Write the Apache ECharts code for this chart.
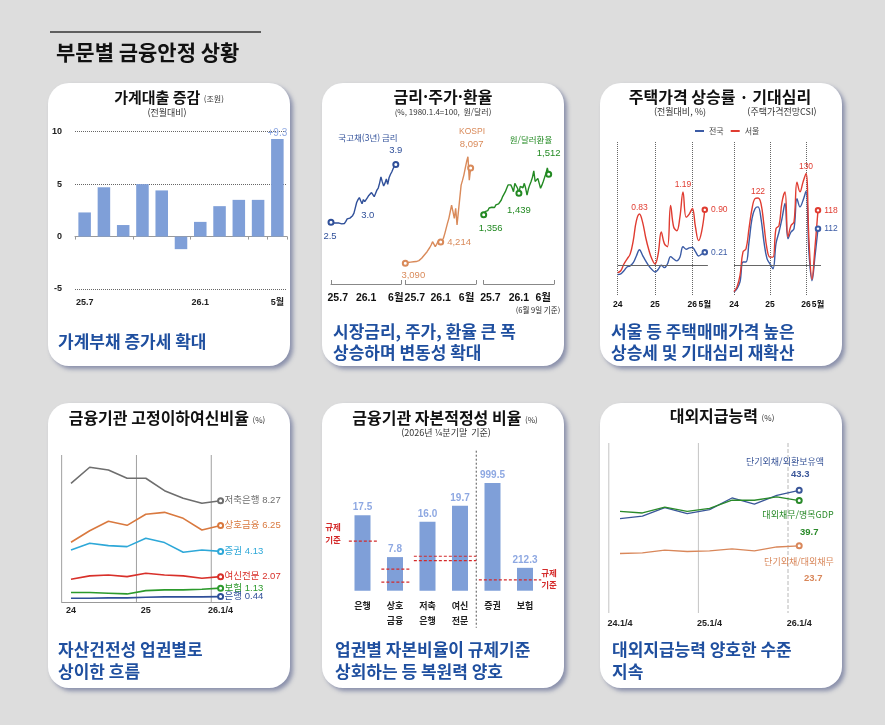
<!DOCTYPE html>
<html lang="ko">
<head>
<meta charset="utf-8">
<title>부문별 금융안정 상황</title>
<script src="https://cdn.jsdelivr.net/npm/echarts@6.0.0/dist/echarts.min.js"></script>
<style>
  html, body { margin: 0; padding: 0; background: #dddddd; }
  #wrap { position: relative; width: 885px; height: 725px; overflow: hidden; }
  .card { position: absolute; background: #fff; border-radius: 21px; box-shadow: 3px 3px 4px rgba(70, 80, 130, 0.55); }
  #main { position: absolute; left: 0; top: 0; width: 885px; height: 725px; }
</style>
</head>
<body>
<div id="wrap">
  <div class="card" style="left:48px;top:83px;width:242px;height:283px"></div>
  <div class="card" style="left:322px;top:83px;width:242px;height:283px"></div>
  <div class="card" style="left:600px;top:83px;width:242px;height:283px"></div>
  <div class="card" style="left:48px;top:403px;width:242px;height:285px"></div>
  <div class="card" style="left:322px;top:403px;width:242px;height:285px"></div>
  <div class="card" style="left:600px;top:403px;width:242px;height:285px"></div>
  <div id="main"></div>
</div>
<script>
// 가계대출 증감 (조원, 전월대비)
var loanMonths = ['25.7', '25.8', '25.9', '25.10', '25.11', '25.12', '26.1', '26.2', '26.3', '26.4', '26.5'];
var loanTicks = ['25.7', '', '', '', '', '', '26.1', '', '', '', '5월'];
var loanChange = [2.3, 4.7, 1.1, 5.0, 4.4, -1.2, 1.4, 2.9, 3.5, 3.5, 9.3];

// 금리·주가·환율 (주간, 25.7 ~ 26.6.9)
var weekCats = [];
for (var w = 0; w < 53; w++) weekCats.push('w' + w);
var rateTickText = ['25.7', '26.1', '6월'];
var bondTickPos = [5, 26, 48];
var kospiTickPos = [7, 26, 45];
var fxTickPos = [5, 26, 44];
var bondYield = [2.50, 2.49, 2.48, 2.47, 2.48, 2.46, 2.48, 2.47, 2.46, 2.47, 2.47, 2.52, 2.58, 2.57, 2.60, 2.62, 2.66,
  2.72, 2.85, 2.98, 3.05, 3.10, 3.02, 2.95, 3.05, 3.00, 2.98, 3.10, 3.15, 3.12, 3.22, 3.25, 3.12, 3.20, 3.28, 3.33,
  3.45, 3.60, 3.48, 3.38, 3.45, 3.55, 3.42, 3.58, 3.66, 3.72, 3.80, 3.86, 3.90];
var kospi = [3090, 3110, 3130, 3120, 3150, 3140, 3170, 3160, 3180, 3178, 3230, 3290, 3353, 3440, 3528, 3600, 3700,
  3790, 3920, 4053, 4228, 4100, 3965, 4088, 4228, 4150, 4214, 4300, 4403, 4650, 4928, 5200, 5453, 5800, 6153, 5803,
  5453, 5978, 5103, 5803, 6503, 7203, 7450, 7728, 8078, 8428, 8690, 7465, 8097];
var usdkrw = [1356, 1368, 1375, 1372, 1382, 1378, 1385, 1388, 1384, 1394, 1390, 1398, 1401, 1413, 1426, 1420, 1445,
  1458, 1471, 1465, 1471, 1460, 1445, 1477, 1471, 1458, 1439, 1465, 1471, 1460, 1477, 1458, 1432, 1455, 1471, 1484,
  1500, 1525, 1484, 1490, 1496, 1477, 1458, 1470, 1484, 1500, 1515, 1536, 1512];

// 주택가격 상승률(전월대비, %) · 주택가격전망CSI
var hpiMonths = ['24.1', '24.2', '24.3', '24.4', '24.5', '24.6', '24.7', '24.8', '24.9', '24.10', '24.11', '24.12',
  '25.1', '25.2', '25.3', '25.4', '25.5', '25.6', '25.7', '25.8', '25.9', '25.10', '25.11', '25.12',
  '26.1', '26.2', '26.3', '26.4', '26.5', '26.6'];
var hpiTickPos = [0, 12, 24, 28];
var hpiTickText = ['24', '25', '26', '5월'];
var hpiNation = [-0.15, -0.14, -0.09, -0.03, -0.01, 0.04, 0.15, 0.25, 0.16, 0.07, -0.01, -0.07, -0.11, -0.07, 0.00,
  -0.04, 0.02, 0.14, 0.10, 0.07, 0.13, 0.30, 0.26, 0.28, 0.29, 0.22, 0.15, 0.18, 0.21];
var hpiSeoul = [-0.12, -0.09, 0.02, 0.10, 0.18, 0.40, 0.72, 0.83, 0.70, 0.45, 0.25, 0.10, 0.02, 0.18, 0.54, 0.35,
  0.30, 0.97, 0.62, 0.56, 0.78, 1.19, 0.78, 0.83, 0.92, 0.62, 0.40, 0.55, 0.90];
var csiNation = [91.3, 92.4, 94.6, 101.1, 101.1, 107.6, 115.3, 118.5, 119.1, 115.3, 107.6, 102.2, 100.5, 98.9, 107.1,
  110.9, 115.3, 120.2, 108.7, 110.9, 112.0, 121.8, 119.1, 121.2, 124.2, 104.0, 95.0, 103.0, 112.0];
var csiSeoul = [91.5, 92.9, 96.7, 104.4, 105.4, 112.0, 118.5, 121.8, 122.0, 120.2, 113.1, 105.4, 102.7, 102.7, 112.0,
  113.0, 120.7, 124.0, 109.3, 113.0, 114.2, 127.2, 124.0, 127.2, 130.0, 108.0, 95.5, 106.0, 118.0];

// 금융기관 고정이하여신비율 (%)
var quarters = ['24.1/4', '24.2/4', '24.3/4', '24.4/4', '25.1/4', '25.2/4', '25.3/4', '25.4/4', '26.1/4'];
var nplTicks = ['24', '', '', '', '25', '', '', '', '26.1/4'];
var yearStarts = [0, 4, 8];
var nplSavings = [9.69, 11.0, 10.77, 10.1, 10.1, 9.09, 8.47, 8.06, 8.27];
var nplMutual = [4.88, 5.82, 6.59, 6.26, 7.16, 7.32, 6.83, 5.88, 6.25];
var nplSecurities = [4.25, 4.80, 4.60, 4.52, 5.20, 4.85, 4.06, 4.25, 4.13];
var nplCard = [1.86, 2.13, 2.21, 2.07, 2.35, 2.21, 2.13, 1.94, 2.07];
var nplInsurance = [0.77, 0.77, 0.72, 0.66, 0.93, 0.99, 0.99, 1.04, 1.13];
var nplBank = [0.31, 0.31, 0.34, 0.34, 0.39, 0.42, 0.42, 0.42, 0.44];

// 금융기관 자본적정성 비율 (%, 2026년 1/4분기말)
var capCats = ['은행', '상호\n금융', '저축\n은행', '여신\n전문', '증권', '보험'];
var capRatioA = [17.5, 7.8, 16.0, 19.7, null, null];
var capRatioB = [null, null, null, null, 999.5, 212.3];
var capSplit = [4];
// [시작 업권, 끝 업권, 규제기준]
var regLinesA = [[0, 0, 11.5], [1, 1, 5], [1, 1, 2], [2, 3, 8], [2, 3, 7]];
var regLinesB = [[4, 5, 100]];

// 대외지급능력 (%)
var extTicks = ['24.1/4', '', '', '', '25.1/4', '', '', '', '26.1/4'];
var stDebtReserves = [33.3, 34.2, 37.2, 35.1, 36.5, 40.6, 38.4, 41.5, 43.3];
var extDebtGdp = [35.9, 35.3, 37.4, 35.9, 36.9, 39.8, 39.8, 41.0, 39.7];
var stDebtShare = [21.0, 21.2, 22.2, 21.7, 21.9, 22.6, 21.9, 23.3, 23.7];

var KR = "'Noto Sans CJK KR', sans-serif";
var NUM = "'Liberation Sans', Arial, 'Noto Sans CJK KR', sans-serif";
var BAR = '#7f9fd8', LBLUE = '#8ea8e2', CAP = '#1f4f9f';
var C_BOND = '#2f4f99', C_KOSPI = '#d98a5a', C_FX = '#238a23';
var C_NAT = '#3b5ba5', C_SEOUL = '#e03c31';

var chart = echarts.init(document.getElementById('main'));

// 특정 시점에만 점/라벨 표시
function marks(values, spec) {
  return values.map(function (v, i) {
    var m = spec[i];
    if (!m) return v;
    var item = { value: v };
    if (m.dot) {
      item.symbol = 'emptyCircle';
    } else {
      item.symbol = 'circle';
      item.symbolSize = 1;
      item.itemStyle = { color: 'rgba(0,0,0,0)', borderWidth: 0 };
    }
    if (m.label) item.label = Object.assign({ show: true }, m.label);
    return item;
  });
}

function txt(x, y, s, size, color, opt) {
  opt = opt || {};
  return {
    type: 'text', x: x, y: y, z: 100, silent: true,
    style: {
      text: s, fontSize: size, fontWeight: opt.w || 'normal', fontFamily: opt.f || KR,
      fill: color, align: opt.a || 'center', verticalAlign: 'middle', rich: opt.rich
    }
  };
}
function title(x, y, t, unit, size) {
  return txt(x, y, '{t|' + t + '}' + (unit ? ' {u|' + unit + '}' : ''), size || 16, '#111', {
    rich: {
      t: { fontSize: size || 16, fontWeight: 'bold', fontFamily: KR, fill: '#111' },
      u: { fontSize: 8, fontFamily: KR, fill: '#333', padding: [4, 0, 0, 0] }
    }
  });
}
function caption(x, y, s) { return txt(x, y, s, 17, CAP, { w: 'bold', a: 'left' }); }

function weekAxis(g, pos) {
  return {
    gridIndex: g, type: 'category', boundaryGap: false, data: weekCats,
    axisLine: { lineStyle: { color: '#888', width: 1 } },
    axisTick: { show: true, inside: true, length: 4, lineStyle: { color: '#888' },
      interval: function (i) { return i === 0 || i === weekCats.length - 1; } },
    axisLabel: { margin: 9, fontSize: 10.5, fontWeight: 'bold', color: '#111', fontFamily: NUM,
      interval: function (i) { return pos.indexOf(i) >= 0; },
      formatter: function (v, i) { return rateTickText[pos.indexOf(i)]; } },
    splitLine: { show: false }
  };
}
function hpiAxis(g) {
  return {
    gridIndex: g, type: 'category', boundaryGap: false, data: hpiMonths,
    axisLine: { show: false }, axisTick: { show: false },
    axisLabel: { margin: 4, fontSize: 8.5, fontWeight: 'bold', color: '#111', fontFamily: NUM,
      interval: function (i) { return hpiTickPos.indexOf(i) >= 0; },
      formatter: function (v, i) { return hpiTickText[hpiTickPos.indexOf(i)]; } },
    splitLine: { show: true, interval: function (i) { return i % 12 === 0; },
      lineStyle: { color: '#666', type: 'dotted', width: 1 } }
  };
}
function quarterAxis(g, ticks, margin, showLine) {
  return {
    gridIndex: g, type: 'category', boundaryGap: true, data: quarters,
    axisLine: { show: showLine, lineStyle: { color: '#999' } }, axisTick: { show: false },
    axisLabel: { interval: 0, margin: margin, fontSize: 9, fontWeight: 'bold', color: '#222', fontFamily: NUM,
      formatter: function (v, i) { return ticks[i]; } },
    splitLine: { show: false }
  };
}
// 구간 경계(카테고리 왼쪽 끝)에 세로선
function boundarySeries(xi, yi, idx, styleFn, extend) {
  return {
    type: 'custom', xAxisIndex: xi, yAxisIndex: yi, silent: true, z: 1,
    data: idx.map(function (i) { return [i, 0]; }), encode: { x: 0, y: 1 },
    renderItem: function (params, api) {
      var cs = params.coordSys;
      var bw = api.size([1, 0])[0];
      var x = api.coord([api.value(0), 0])[0] - bw / 2;
      return { type: 'line', shape: { x1: x, y1: cs.y, x2: x, y2: cs.y + cs.height + (extend || 0) },
        style: styleFn(api.value(0)) };
    }
  };
}
function lineSeries(name, xi, yi, data, color, fmt, extra) {
  return Object.assign({
    type: 'line', name: name, xAxisIndex: xi, yAxisIndex: yi, data: data,
    symbol: 'none', symbolSize: 5, showAllSymbol: true, silent: true, z: 3,
    lineStyle: { color: color, width: 1.4 }, itemStyle: { color: color, borderWidth: 1.2 },
    label: { show: false, color: color, fontSize: 9.5, fontFamily: NUM, formatter: function (p) { return fmt(p.value); } }
  }, extra || {});
}
var f1 = function (v) { return v.toFixed(1); };
var f2 = function (v) { return v.toFixed(2); };
var f0 = function (v) { return String(Math.round(v)); };
var fc = function (v) { return v.toLocaleString('en-US'); };

var last = hpiSeoul.length - 1;
var nplLast = quarters.length - 1;

function nplSeries(name, data, color) {
  var spec = {}; spec[nplLast] = { dot: true };
  return lineSeries(name, 6, 6, marks(data, spec), color, f2, {
    lineStyle: { color: color, width: 1.6 },
    endLabel: { show: true, distance: 4, color: color, fontSize: 9.5, fontFamily: NUM,
      formatter: function (p) { return p.seriesName + ' ' + p.value.toFixed(2); } }
  });
}
function endLabelSpec(pos, distance, offset) {
  var s = {}; s[nplLast] = { dot: true, label: { position: pos, distance: distance, offset: offset } }; return s;
}
function extSeries(name, data, color, spec) {
  return lineSeries(name, 8, 9, marks(data, spec), color, f1, {
    lineStyle: { color: color, width: 1.3 },
    label: { show: false, color: color, fontSize: 9.5, fontWeight: 'bold', fontFamily: NUM,
      formatter: function (p) { return f1(p.value); } }
  });
}

function regRender(params, api) {
  var a = api.coord([api.value(0), api.value(2)]);
  var b = api.coord([api.value(1), api.value(2)]);
  var bw = api.size([1, 0])[0];
  return {
    type: 'line',
    shape: { x1: a[0] - bw * 0.42, y1: a[1], x2: b[0] + bw * 0.5, y2: b[1] },
    style: { stroke: '#d42a2a', lineWidth: 1.2, lineDash: [3, 2] }
  };
}

var option = {
  animation: false,
  textStyle: { fontFamily: NUM },
  legend: {
    data: ['전국', '서울'], left: 695, top: 127, padding: 0, itemWidth: 9, itemHeight: 2, itemGap: 7,
    icon: 'rect', selectedMode: false, textStyle: { fontSize: 8, color: '#444', fontFamily: KR }
  },
  grid: [
    { left: 75, top: 131.7, width: 212, height: 157.3 },
    { left: 331, top: 130, width: 70.2, height: 154 },
    { left: 405.3, top: 130, width: 70.8, height: 154 },
    { left: 483.7, top: 130, width: 70.4, height: 154 },
    { left: 617.7, top: 142, width: 90.2, height: 154 },
    { left: 734, top: 142, width: 87, height: 154 },
    { left: 61.65, top: 455, width: 168.3, height: 147 },
    { left: 346.25, top: 450.7, width: 195, height: 140 },
    { left: 608.8, top: 443, width: 201.6, height: 170 }
  ],
  xAxis: [
    { gridIndex: 0, type: 'category', data: loanMonths,
      axisLine: { onZero: true, lineStyle: { color: '#9a9a9a' } },
      axisTick: { show: true, interval: 2, length: 3, lineStyle: { color: '#9a9a9a' } },
      axisLabel: { interval: 0, margin: 9, fontSize: 9, fontWeight: 'bold', color: '#222', fontFamily: NUM,
        formatter: function (v, i) { return loanTicks[i]; } } },
    weekAxis(1, bondTickPos),
    weekAxis(2, kospiTickPos),
    weekAxis(3, fxTickPos),
    hpiAxis(4),
    hpiAxis(5),
    quarterAxis(6, nplTicks, 4, true),
    { gridIndex: 7, type: 'category', data: capCats,
      axisLine: { show: false }, axisTick: { show: false },
      axisLabel: { interval: 0, margin: 7, fontSize: 9, fontWeight: 'bold', color: '#222', lineHeight: 15, fontFamily: KR },
      splitLine: { show: false } },
    quarterAxis(8, extTicks, 6, false)
  ],
  yAxis: [
    { gridIndex: 0, type: 'value', min: -5, max: 10, interval: 5,
      axisLine: { show: false }, axisTick: { show: false },
      axisLabel: { margin: 13, fontSize: 9, fontWeight: 'bold', color: '#222', fontFamily: NUM },
      splitLine: { lineStyle: { color: '#666', type: 'dotted', width: 1 } } },
    { gridIndex: 1, type: 'value', min: 1.0, max: 4.74, show: false },
    { gridIndex: 2, type: 'value', min: 2000, max: 10100, show: false },
    { gridIndex: 3, type: 'value', min: 1090, max: 1682, show: false },
    { gridIndex: 4, type: 'value', min: -0.5, max: 2.0, show: false },
    { gridIndex: 5, type: 'value', min: 90, max: 140.3, show: false },
    { gridIndex: 6, type: 'value', min: 0, max: 12, show: false },
    { gridIndex: 7, type: 'value', min: 0, max: 32.5, show: false },
    { gridIndex: 7, type: 'value', min: 0, max: 1300, show: false },
    { gridIndex: 8, type: 'value', min: 0, max: 60, show: false }
  ],
  series: [
    // 가계대출
    { type: 'bar', xAxisIndex: 0, yAxisIndex: 0, barWidth: '65%', silent: true, itemStyle: { color: BAR },
      data: loanChange.map(function (v, i) {
        if (i !== loanChange.length - 1) return v;
        return { value: v, label: { show: true, position: 'top', distance: 1, color: LBLUE, fontSize: 10, fontFamily: NUM,
          formatter: function (p) { return '+' + p.value.toFixed(1); } } };
      }) },
    // 금리·주가·환율
    lineSeries('국고채(3년)', 1, 1, marks(bondYield, {
      0: { dot: true, label: { position: 'bottom', distance: 6, offset: [-1, 0] } },
      25: { label: { position: 'bottom', distance: 8, offset: [3, 0] } },
      48: { dot: true, label: { position: 'top', distance: 6 } }
    }), C_BOND, f1),
    lineSeries('KOSPI', 2, 2, marks(kospi, {
      0: { dot: true, label: { position: 'bottom', distance: 4, offset: [8, 0] } },
      26: { dot: true, label: { position: 'right', distance: 3 } },
      48: { dot: true, label: { position: 'top', distance: 15, offset: [1, 0] } }
    }), C_KOSPI, fc),
    lineSeries('원/달러', 3, 3, marks(usdkrw, {
      0: { dot: true, label: { position: 'bottom', distance: 5, offset: [7, 0] } },
      26: { dot: true, label: { position: 'bottom', distance: 9 } },
      48: { dot: true, label: { position: 'top', distance: 13 } }
    }), C_FX, fc),
    // 주택가격 상승률
    lineSeries('전국', 4, 4, marks(hpiNation, (function () { var s = {}; s[last] = { dot: true, label: { position: 'right', distance: 3 } }; return s; })()),
      C_NAT, f2, { smooth: 0.4, symbolSize: 4.5, label: { show: false, color: C_NAT, fontSize: 8.5, fontFamily: NUM, formatter: function (p) { return f2(p.value); } } }),
    lineSeries('서울', 4, 4, marks(hpiSeoul, (function () {
      var s = {};
      s[7] = { label: { position: 'top', distance: 2 } };
      s[21] = { label: { position: 'top', distance: 2 } };
      s[last] = { dot: true, label: { position: 'right', distance: 3 } };
      return s;
    })()), C_SEOUL, f2, { smooth: 0.4, symbolSize: 4.5,
      label: { show: false, color: C_SEOUL, fontSize: 8.5, fontFamily: NUM, formatter: function (p) { return f2(p.value); } },
      markLine: { silent: true, symbol: 'none', label: { show: false }, lineStyle: { color: '#666', type: 'solid', width: 1 }, data: [{ yAxis: 0 }] } }),
    // 주택가격전망CSI
    lineSeries('전국', 5, 5, marks(csiNation, (function () { var s = {}; s[last] = { dot: true, label: { position: 'right', distance: 3 } }; return s; })()),
      C_NAT, f0, { smooth: 0.4, symbolSize: 4.5, label: { show: false, color: C_NAT, fontSize: 8.5, fontFamily: NUM, formatter: function (p) { return f0(p.value); } } }),
    lineSeries('서울', 5, 5, marks(csiSeoul, (function () {
      var s = {};
      s[8] = { label: { position: 'top', distance: 2 } };
      s[24] = { label: { position: 'top', distance: 2 } };
      s[last] = { dot: true, label: { position: 'right', distance: 3 } };
      return s;
    })()), C_SEOUL, f0, { smooth: 0.4, symbolSize: 4.5,
      label: { show: false, color: C_SEOUL, fontSize: 8.5, fontFamily: NUM, formatter: function (p) { return f0(p.value); } },
      markLine: { silent: true, symbol: 'none', label: { show: false }, lineStyle: { color: '#666', type: 'solid', width: 1 }, data: [{ yAxis: 100 }] } }),
    // 고정이하여신비율
    boundarySeries(6, 6, yearStarts, function () { return { stroke: '#a0a0a0', lineWidth: 1 }; }, 0),
    nplSeries('저축은행', nplSavings, '#6e6e6e'),
    nplSeries('상호금융', nplMutual, '#d9793f'),
    nplSeries('증권', nplSecurities, '#2ea8d8'),
    nplSeries('여신전문', nplCard, '#d8302a'),
    nplSeries('보험', nplInsurance, '#2c9a2c'),
    nplSeries('은행', nplBank, '#2f4f99'),
    // 자본적정성
    boundarySeries(7, 7, capSplit, function () { return { stroke: '#555', lineWidth: 1, lineDash: [2, 2] }; }, 37),
    { type: 'bar', xAxisIndex: 7, yAxisIndex: 7, data: capRatioA, barWidth: 16, barGap: '-100%', silent: true,
      itemStyle: { color: BAR },
      label: { show: true, position: 'top', distance: 3, color: LBLUE, fontSize: 10, fontWeight: 'bold', fontFamily: NUM,
        formatter: function (p) { return p.value.toFixed(1); } } },
    { type: 'bar', xAxisIndex: 7, yAxisIndex: 8, data: capRatioB, barWidth: 16, barGap: '-100%', silent: true,
      itemStyle: { color: BAR },
      label: { show: true, position: 'top', distance: 3, color: LBLUE, fontSize: 10, fontWeight: 'bold', fontFamily: NUM,
        formatter: function (p) { return p.value.toFixed(1); } } },
    { type: 'custom', xAxisIndex: 7, yAxisIndex: 7, data: regLinesA, renderItem: regRender, encode: { x: [0, 1], y: 2 }, silent: true, z: 5 },
    { type: 'custom', xAxisIndex: 7, yAxisIndex: 8, data: regLinesB, renderItem: regRender, encode: { x: [0, 1], y: 2 }, silent: true, z: 5 },
    // 대외지급능력
    boundarySeries(8, 9, yearStarts, function (i) {
      return i === 8 ? { stroke: '#b8b8b8', lineWidth: 1, lineDash: [4, 2] } : { stroke: '#c4c4c4', lineWidth: 1 };
    }, 0),
    extSeries('단기외채/외환보유액', stDebtReserves, '#3a5699', endLabelSpec('top', 8, [1, 0])),
    extSeries('대외채무/명목GDP', extDebtGdp, '#2a8a2a', endLabelSpec('bottom', 24, [10, 0])),
    extSeries('단기외채/대외채무', stDebtShare, '#d9875a', endLabelSpec('bottom', 24, [14, 0]))
  ],
  graphic: [
    { type: 'line', z: 100, silent: true, shape: { x1: 50, y1: 32, x2: 261, y2: 32 }, style: { stroke: '#333', lineWidth: 1.3 } },
    txt(56, 52, '부문별 금융안정 상황', 21, '#111', { w: 'bold', a: 'left' }),
    // 1
    title(169, 97, '가계대출 증감', '(조원)', 15),
    txt(167, 113, '(전월대비)', 9, '#333'),
    caption(58, 342, '가계부채 증가세 확대'),
    // 2
    title(443, 97, '금리·주가·환율', null, 16),
    txt(443, 112, '(%, 1980.1.4=100,  원/달러)', 8, '#333'),
    txt(368, 138, '국고채(3년) 금리', 8.5, C_BOND),
    txt(472, 132, 'KOSPI', 8.5, C_KOSPI, { f: NUM }),
    txt(531, 140, '원/달러환율', 8.5, C_FX),
    txt(538, 310, '(6월 9일 기준)', 7.5, '#222'),
    caption(333, 332, '시장금리, 주가, 환율 큰 폭'),
    caption(333, 353, '상승하며 변동성 확대'),
    // 3
    title(720, 97, '주택가격 상승률 · 기대심리', null, 16),
    txt(680, 112, '(전월대비, %)', 9, '#333'),
    txt(782, 112, '(주택가격전망CSI)', 9, '#333'),
    caption(611, 332, '서울 등 주택매매가격 높은'),
    caption(611, 353, '상승세 및 기대심리 재확산'),
    // 4
    title(167, 418, '금융기관 고정이하여신비율', '(%)', 16),
    caption(58, 650, '자산건전성 업권별로'),
    caption(58, 672, '상이한 흐름'),
    // 5
    title(445, 418, '금융기관 자본적정성 비율', '(%)', 16),
    txt(446, 433, '(2026년 ¼분기말  기준)', 9, '#333'),
    txt(333, 527, '규제', 8.5, '#d42a2a', { w: 'bold' }),
    txt(333, 540, '기준', 8.5, '#d42a2a', { w: 'bold' }),
    txt(549, 573, '규제', 8.5, '#d42a2a', { w: 'bold' }),
    txt(549, 585, '기준', 8.5, '#d42a2a', { w: 'bold' }),
    caption(335, 650, '업권별 자본비율이 규제기준'),
    caption(335, 672, '상회하는 등 복원력 양호'),
    // 6
    title(722, 416, '대외지급능력', '(%)', 16),
    txt(785, 462, '단기외채/외환보유액', 9, '#3a5699'),
    txt(798, 515, '대외채무/명목GDP', 9, '#2a8a2a'),
    txt(799, 562, '단기외채/대외채무', 9, '#d9875a'),
    caption(612, 650, '대외지급능력 양호한 수준'),
    caption(612, 672, '지속')
  ]
};

chart.setOption(option);
</script>
</body>
</html>
